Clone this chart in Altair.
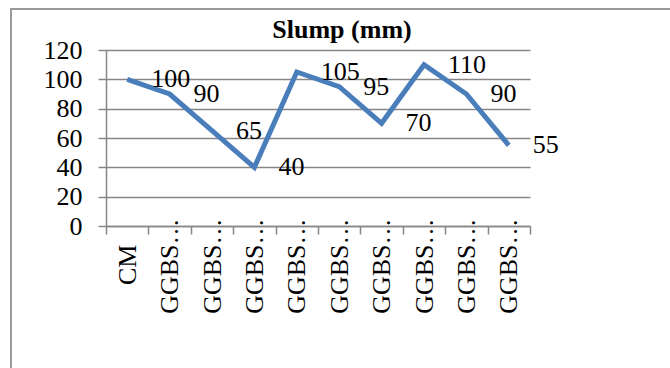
import altair as alt
import pandas as pd

categories = ["CM", "GGBS-1", "GGBS-2", "GGBS-3", "GGBS-4", "GGBS-5",
              "GGBS-6", "GGBS-7", "GGBS-8", "GGBS-9"]
tick_labels = ["CM", "GGBS…", "GGBS…", "GGBS…", "GGBS…",
               "GGBS…", "GGBS…", "GGBS…", "GGBS…", "GGBS…"]
slump = [100, 90, 65, 40, 105, 95, 70, 110, 90, 55]
y_ticks = [0, 20, 40, 60, 80, 100, 120]

df = pd.DataFrame({"cat": categories, "slump": slump})

label_expr = " : ".join(
    [f"datum.value == '{c}' ? '{l}'" for c, l in zip(categories, tick_labels)]
) + " : datum.label"

FONT = "Liberation Serif"
GRAY = "#868686"

x_enc = alt.X(
    "cat:N", sort=categories, title=None,
    scale=alt.Scale(type="band", paddingInner=0, paddingOuter=0),
    axis=alt.Axis(labelAngle=-90, labelExpr=label_expr, labelFont=FONT,
                  labelFontSize=26, labelColor="black",
                  labelPadding=alt.condition("datum.value == 'CM'", alt.value(10), alt.value(-16)),
                  tickBand="extent", tickSize=8, tickColor=GRAY, tickWidth=1.5,
                  domainColor=GRAY, domainWidth=1.5, grid=False, labelLimit=300,
                  labelOverlap=False),
)
y_enc = alt.Y(
    "slump:Q", title=None,
    scale=alt.Scale(domain=[0, 120], nice=False),
    axis=alt.Axis(values=y_ticks, labelFont=FONT, labelFontSize=26,
                  labelColor="black", labelPadding=16, tickSize=8,
                  tickColor=GRAY, tickWidth=1.5, domainColor=GRAY,
                  domainWidth=1.5, gridColor=GRAY, gridWidth=1.5,
                  labelOverlap=False, labelBound=False),
)

base = alt.Chart(df)
line = base.mark_line(color="#4A7EBB", strokeWidth=5).encode(x=x_enc, y=y_enc)
labels = base.mark_text(align="left", baseline="middle", dx=24, font=FONT,
                        fontSize=26, color="black").encode(
    x=x_enc, y=y_enc, text="slump:Q")

frame_left = alt.Chart(df).mark_rule(color="#9a9a9a", strokeWidth=2).encode(
    x=alt.value(-95), y=alt.value(-41), y2=alt.value(330))
frame_top = alt.Chart(df).mark_rule(color="#9a9a9a", strokeWidth=2).encode(
    x=alt.value(-96), x2=alt.value(580), y=alt.value(-41))

chart = alt.layer(frame_left, frame_top, line, labels).properties(
    width=424, height=176,
    autosize=alt.AutoSizeParams(type="none"),
    padding={"left": 106, "top": 50, "right": 140, "bottom": 142},
    title=alt.TitleParams("Slump (mm)", font=FONT, fontSize=26, fontWeight="bold",
                          color="black", anchor="middle", dx=24, offset=-56,
                          baseline="alphabetic"),
).configure_view(stroke=None).configure_axis(labelOverlap=False)

chart.save("out.html", embed_options={"renderer": "svg", "actions": False})
